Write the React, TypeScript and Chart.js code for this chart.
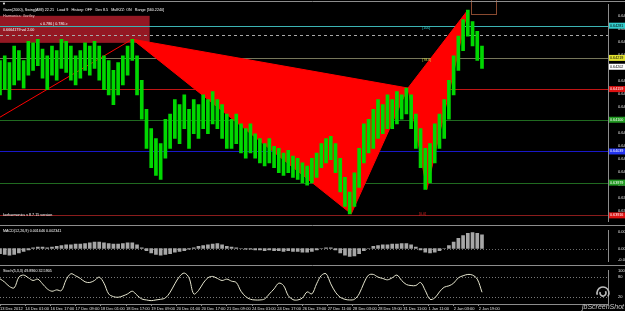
import React, { useEffect, useRef } from 'react';
import { Chart, registerables } from 'chart.js';
Chart.register(...registerables);

const FONT = '"Liberation Sans", Arial, sans-serif';
const X_MAX = 386; // hourly bars across the plot
const STEP = 3; // hours per drawn sample

const barHigh = [
  0.64214, 0.64223, 0.64210, 0.64242, 0.64233, 0.64214, 0.64251, 0.64248, 0.64255, 0.64236,
  0.64223, 0.64242, 0.64233, 0.64255, 0.64251, 0.64242, 0.64223, 0.64233, 0.64248, 0.64242,
  0.64251, 0.64242, 0.64223, 0.64214, 0.64195, 0.64210, 0.64223, 0.64242, 0.64255, 0.64223,
  0.64176, 0.64120, 0.64083, 0.64064, 0.64054, 0.64101, 0.64111, 0.64139, 0.64129, 0.64148,
  0.64120, 0.64139, 0.64129, 0.64148, 0.64139, 0.64154, 0.64139, 0.64129, 0.64111, 0.64101,
  0.64111, 0.64092, 0.64083, 0.64092, 0.64073, 0.64064, 0.64054, 0.64064, 0.64049, 0.64045,
  0.64036, 0.64041, 0.64030, 0.64026, 0.64017, 0.64011, 0.64026, 0.64036, 0.64054, 0.64064,
  0.64068, 0.64054, 0.64026, 0.63989, 0.63961, 0.63998, 0.64045, 0.64092, 0.64101, 0.64120,
  0.64139, 0.64129, 0.64148, 0.64139, 0.64154, 0.64148, 0.64161, 0.64148, 0.64111, 0.64083,
  0.64045, 0.64054, 0.64092, 0.64111, 0.64139, 0.64176, 0.64223, 0.64261, 0.64293, 0.64311,
  0.64289, 0.64270, 0.64242,
];
const barLow = [
  0.64148, 0.64158, 0.64139, 0.64167, 0.64176, 0.64161, 0.64186, 0.64195, 0.64204, 0.64180,
  0.64158, 0.64186, 0.64176, 0.64199, 0.64191, 0.64176, 0.64167, 0.64180, 0.64195, 0.64186,
  0.64199, 0.64176, 0.64158, 0.64148, 0.64129, 0.64148, 0.64167, 0.64186, 0.64214, 0.64148,
  0.64101, 0.64045, 0.64008, 0.63993, 0.63985, 0.64026, 0.64045, 0.64064, 0.64054, 0.64083,
  0.64045, 0.64073, 0.64064, 0.64083, 0.64073, 0.64092, 0.64083, 0.64064, 0.64045, 0.64045,
  0.64054, 0.64036, 0.64026, 0.64036, 0.64026, 0.64017, 0.64011, 0.64017, 0.64008, 0.63998,
  0.63993, 0.63998, 0.63989, 0.63985, 0.63979, 0.63974, 0.63979, 0.63989, 0.64008, 0.64017,
  0.64023, 0.63998, 0.63961, 0.63933, 0.63919, 0.63933, 0.63970, 0.64017, 0.64036, 0.64045,
  0.64064, 0.64073, 0.64083, 0.64083, 0.64092, 0.64101, 0.64111, 0.64083, 0.64045, 0.64008,
  0.63966, 0.63979, 0.64017, 0.64045, 0.64064, 0.64101, 0.64148, 0.64195, 0.64233, 0.64261,
  0.64242, 0.64214, 0.64199,
];
const macdHist = [
  -0.0007, -0.0008, -0.0009, -0.0008, -0.0006, -0.0004, -0.0002, 0.0001, 0.0002, 0.0002,
  0.0001, 0.0002, 0.0003, 0.0004, 0.0005, 0.0005, 0.0006, 0.0006, 0.0007, 0.0008,
  0.0009, 0.0009, 0.0008, 0.0007, 0.0006, 0.0006, 0.0007, 0.0008, 0.0008, 0.0005,
  0.0001, -0.0003, -0.0006, -0.0008, -0.0009, -0.0008, -0.0007, -0.0005, -0.0004, -0.0003,
  -0.0001, 0.0001, 0.0003, 0.0004, 0.0005, 0.0006, 0.0007, 0.0005, 0.0003, 0.0002,
  0.0001, 0.0, -0.0001, -0.0001, -0.0002, -0.0002, -0.0003, -0.0002, -0.0003, -0.0003,
  -0.0004, -0.0003, -0.0004, -0.0004, -0.0005, -0.0005, -0.0004, -0.0002, 0.0, 0.0001,
  0.0001, -0.0002, -0.0006, -0.0009, -0.0011, -0.001, -0.0007, -0.0003, 0.0, 0.0003,
  0.0004, 0.0005, 0.0005, 0.0006, 0.0006, 0.0007, 0.0007, 0.0005, 0.0002, -0.0002,
  -0.0005, -0.0006, -0.0005, -0.0003, 0.0, 0.0004, 0.0009, 0.0014, 0.0018, 0.0021,
  0.0022, 0.0021, 0.0019,
];
const stochMain = [
  75, 65, 52, 48, 80, 86, 78, 70, 74, 60,
  45, 38, 42, 40, 72, 90, 84, 76, 66, 64,
  70, 80, 62, 30, 22, 20, 24, 30, 38, 26,
  15, 12, 10, 12, 14, 18, 35, 60, 82, 92,
  78, 30, 40, 62, 78, 82, 76, 70, 74, 68,
  64, 38, 22, 14, 12, 12, 15, 30, 45, 62,
  55, 25, 13, 12, 18, 36, 30, 60, 85, 90,
  60, 35, 20, 14, 12, 14, 30, 62, 86, 88,
  80, 76, 72, 78, 86, 70, 58, 55, 55, 64,
  40, 14, 18, 36, 50, 54, 62, 78, 84, 88,
  86, 74, 35,
];
const timeLabels = [
  '13 Dec 2012', '14 Dec 01:00', '16 Dec 17:00', '17 Dec 09:00', '18 Dec 01:00',
  '18 Dec 17:00', '19 Dec 09:00', '20 Dec 01:00', '20 Dec 17:00', '21 Dec 09:00',
  '24 Dec 01:00', '24 Dec 17:00', '26 Dec 19:00', '27 Dec 11:00', '28 Dec 03:00',
  '28 Dec 19:00', '31 Dec 11:00', '1 Jan 11:00', '2 Jan 03:00', '2 Jan 19:00',
];
const priceTicks = [
  0.643, 0.64275, 0.6425, 0.64225, 0.642, 0.64175, 0.6415, 0.64125,
  0.641, 0.64075, 0.6405, 0.64025, 0.64, 0.63975, 0.6395, 0.63925,
];
const macdTickValues = [0.00236, 0, -0.00156];
const macdTickLabels = ['0.002366', '0.00', '-0.001564'];
const stochTicks = [100, 80, 20];
const stochLevels = [80, 20];

// horizontal price levels
const levelPrices = [0.64281, 0.64264, 0.64219, 0.64202, 0.64159, 0.641, 0.64039, 0.63979, 0.63916];
const levelLine = ['#3cb4b4', '#a8a8a8', '#76765a', '', '#c01414', '#206a20', '#1818c8', '#206a20', '#8a1c1c'];
const levelDash = [false, true, false, false, false, false, false, false, false];
const levelTag = ['#33cccc', '', '#e0e030', '#ffffff', '#dd1111', '#229922', '#2233ee', '#229922', '#dd1111'];
const levelTagText = ['#000', '', '#000', '#000', '#fff', '#fff', '#fff', '#fff', '#fff'];

// harmonic pattern points X, A, B, C, D (bar index, price)
const patternX = [84, 223, 259, 271, 297];
const patternP = [0.64255, 0.63919, 0.64161, 0.63966, 0.64311];
const legX = [0, 84];
const legP = [0.64105, 0.64255];
const boxX = [0, 95];
const boxP = [0.643, 0.64248];
const brownX = [299, 315];
const brownP = [0.64335, 0.64304];

const txt = (ctx: CanvasRenderingContext2D, s: string, x: number, y: number, color: string, size = 4, align: CanvasTextAlign = 'left', style = '') => {
  ctx.font = `${style}${size}px ${FONT}`;
  ctx.fillStyle = color;
  ctx.textAlign = align;
  ctx.textBaseline = 'middle';
  ctx.fillText(s, x, y);
};

const mainDecor = {
  id: 'mainDecor',
  beforeDatasetsDraw(chart: any) {
    const { ctx, chartArea: ca, scales } = chart;
    const x = scales.x, y = scales.y;
    ctx.save();
    ctx.beginPath();
    ctx.rect(ca.left, 0, ca.right - ca.left, ca.bottom);
    ctx.clip();
    const bx0 = x.getPixelForValue(boxX[0]), bx1 = x.getPixelForValue(boxX[1]);
    const by0 = y.getPixelForValue(boxP[0]), by1 = y.getPixelForValue(boxP[1]);
    ctx.fillStyle = '#941823';
    ctx.fillRect(bx0, by0, bx1 - bx0, by1 - by0);
    levelPrices.forEach((p, i) => {
      if (!levelLine[i]) return;
      const py = Math.round(y.getPixelForValue(p)) + 0.5;
      ctx.strokeStyle = levelLine[i];
      ctx.lineWidth = 1;
      ctx.setLineDash(levelDash[i] ? [3, 3] : []);
      ctx.beginPath();
      ctx.moveTo(ca.left, py);
      ctx.lineTo(ca.right, py);
      ctx.stroke();
    });
    ctx.setLineDash([]);
    const pts = patternX.map((v, i) => [x.getPixelForValue(v), y.getPixelForValue(patternP[i])]);
    ctx.fillStyle = '#ff0000';
    ctx.strokeStyle = '#ff0000';
    [[0, 1, 2], [2, 3, 4]].forEach((tri) => {
      ctx.beginPath();
      ctx.moveTo(pts[tri[0]][0], pts[tri[0]][1]);
      ctx.lineTo(pts[tri[1]][0], pts[tri[1]][1]);
      ctx.lineTo(pts[tri[2]][0], pts[tri[2]][1]);
      ctx.closePath();
      ctx.fill();
      ctx.stroke();
    });
    ctx.beginPath();
    ctx.lineWidth = 1;
    ctx.moveTo(x.getPixelForValue(legX[0]), y.getPixelForValue(legP[0]));
    ctx.lineTo(x.getPixelForValue(legX[1]), y.getPixelForValue(legP[1]));
    ctx.stroke();
    const rx0 = Math.round(x.getPixelForValue(brownX[0])) + 0.5;
    const rx1 = Math.round(x.getPixelForValue(brownX[1])) + 0.5;
    const ry0 = y.getPixelForValue(brownP[0]);
    const ry1 = Math.round(y.getPixelForValue(brownP[1])) + 0.5;
    ctx.strokeStyle = '#8a4a30';
    ctx.strokeRect(rx0, ry0, rx1 - rx0, ry1 - ry0);
    ctx.restore();
  },
  afterDatasetsDraw(chart: any) {
    const { ctx, chartArea: ca, scales } = chart;
    const x = scales.x, y = scales.y;
    ctx.save();
    ctx.strokeStyle = '#8c8c8c';
    ctx.lineWidth = 1;
    ctx.beginPath();
    ctx.moveTo(0, 1.5); ctx.lineTo(625, 1.5);
    ctx.moveTo(0, 225.5); ctx.lineTo(625, 225.5);
    ctx.stroke();
    txt(ctx, '\u25BC', 2, 4, '#ffffff', 4);
    txt(ctx, 'Gann(2000), Swing(AMI) 22.21   Load 9   History: OFF   Dev 8.5   MulKZZ: ON   Range [560.2240]', 3, 10, '#ffffff', 3.7);
    txt(ctx, 'Harmonics: Gartley', 3, 16, '#f0c0c0', 3.7);
    txt(ctx, '\u2264 0.786 | 0.786 \u2265', 40, 24, '#ffffff', 3.7);
    txt(ctx, '0.6664179 val 2.00', 3, 30, '#ffffff', 3.7);
    txt(ctx, 'korharmonics v 8.7.15 version', 3, 215, '#ffffff', 3.7);
    txt(ctx, '[100]', x.getPixelForValue(268), y.getPixelForValue(0.64276), '#33cccc', 3.7);
    txt(ctx, '[78.6]', x.getPixelForValue(268), y.getPixelForValue(0.64215), '#d0d040', 3.7);
    txt(ctx, '[0.0]', x.getPixelForValue(266), y.getPixelForValue(0.63918), '#dd2222', 3.7);
    levelPrices.forEach((p, i) => {
      if (!levelTag[i]) return;
      const py = y.getPixelForValue(p);
      ctx.fillStyle = levelTag[i];
      ctx.fillRect(ca.right + 1, py - 3, 625 - ca.right - 1, 6);
      txt(ctx, p.toFixed(5), ca.right + 2, py, levelTagText[i], 3.7);
    });
    ctx.restore();
  },
};

const macdDecor = {
  id: 'macdDecor',
  beforeDatasetsDraw(chart: any) {
    const { ctx, chartArea: ca, scales } = chart;
    const py = Math.round(scales.y.getPixelForValue(0)) + 0.5;
    ctx.save();
    ctx.strokeStyle = '#6a6a6a';
    ctx.setLineDash([1, 2]);
    ctx.beginPath();
    ctx.moveTo(ca.left, py); ctx.lineTo(ca.right, py);
    ctx.stroke();
    ctx.restore();
  },
  afterDatasetsDraw(chart: any) {
    const { ctx } = chart;
    ctx.save();
    ctx.strokeStyle = '#8c8c8c';
    ctx.lineWidth = 1;
    ctx.beginPath();
    ctx.moveTo(0, 39.5); ctx.lineTo(625, 39.5);
    ctx.stroke();
    txt(ctx, 'MACD(12,26,9) 0.001646 0.002341', 3, 5, '#ffffff', 3.7);
    ctx.restore();
  },
};

const stochDecor = {
  id: 'stochDecor',
  beforeDatasetsDraw(chart: any) {
    const { ctx, chartArea: ca, scales } = chart;
    ctx.save();
    ctx.strokeStyle = '#7a7a7a';
    ctx.setLineDash([1, 2]);
    stochLevels.forEach((l) => {
      const py = Math.round(scales.y.getPixelForValue(l)) + 0.5;
      ctx.beginPath();
      ctx.moveTo(ca.left, py); ctx.lineTo(ca.right, py);
      ctx.stroke();
    });
    ctx.restore();
  },
  afterDatasetsDraw(chart: any) {
    const { ctx } = chart;
    ctx.save();
    txt(ctx, 'Stoch(5,3,3) 49.8960 32.5905', 3, 5, '#ffffff', 3.7);
    ctx.strokeStyle = '#bdbdbd';
    ctx.lineWidth = 1.6;
    ctx.beginPath(); ctx.arc(603, 27, 6, Math.PI * 0.9, Math.PI * 2.2); ctx.stroke();
    ctx.beginPath(); ctx.arc(603, 27, 3, Math.PI * 1.8, Math.PI * 3.1); ctx.stroke();
    txt(ctx, 'jbScreenShot', 624, 41, '#c8c8c8', 7, 'right', 'italic ');
    ctx.restore();
  },
};

const xScale = { type: 'linear', min: 0, max: X_MAX, display: false, offset: false };
const tickFont = { family: FONT, size: 4 };

export default function App() {
  const r1 = useRef<HTMLCanvasElement>(null);
  const r2 = useRef<HTMLCanvasElement>(null);
  const r3 = useRef<HTMLCanvasElement>(null);

  useEffect(() => {
    const common = {
      animation: false,
      responsive: false,
      maintainAspectRatio: false,
      devicePixelRatio: 1,
      events: [],
      plugins: { legend: { display: false }, tooltip: { enabled: false } },
    };
    const c1 = new Chart(r1.current as HTMLCanvasElement, {
      type: 'bar',
      data: {
        datasets: [{
          data: barHigh.map((h, i) => ({ x: i * STEP, y: [barLow[i], h] })),
          backgroundColor: '#00d800',
          borderWidth: 0,
          barThickness: 3,
        }],
      },
      options: {
        ...common,
        layout: { padding: { top: 2, bottom: 1, left: 0, right: 0 } },
        scales: {
          x: xScale,
          y: {
            type: 'linear', position: 'right', min: 0.63904, max: 0.64322,
            grid: { display: false },
            border: { display: true, color: '#8c8c8c' },
            ticks: { color: '#e0e0e0', font: tickFont, padding: 2, callback: (v: any) => Number(v).toFixed(5) },
            afterFit: (s: any) => { s.width = 17; },
            afterBuildTicks: (s: any) => { s.ticks = priceTicks.map((v) => ({ value: v })); },
          },
        },
      } as any,
      plugins: [mainDecor],
    } as any);

    const c2 = new Chart(r2.current as HTMLCanvasElement, {
      type: 'bar',
      data: {
        datasets: [{
          data: macdHist.map((v, i) => ({ x: i * STEP, y: v })),
          backgroundColor: '#a6a6a6',
          borderWidth: 0,
          barThickness: 3,
        }],
      },
      options: {
        ...common,
        layout: { padding: { top: 1, bottom: 1, left: 0, right: 0 } },
        scales: {
          x: xScale,
          y: {
            type: 'linear', position: 'right', min: -0.0018, max: 0.0025,
            grid: { display: false },
            border: { display: true, color: '#8c8c8c' },
            ticks: { color: '#e0e0e0', font: tickFont, padding: 2, callback: (_v: any, i: number) => macdTickLabels[i] },
            afterFit: (s: any) => { s.width = 17; },
            afterBuildTicks: (s: any) => { s.ticks = macdTickValues.map((v) => ({ value: v })); },
          },
        },
      } as any,
      plugins: [macdDecor],
    } as any);

    const c3 = new Chart(r3.current as HTMLCanvasElement, {
      type: 'line',
      data: {
        datasets: [{
          data: stochMain.map((v, i) => ({ x: i * STEP, y: v })),
          borderColor: '#e6e6cf',
          borderWidth: 1,
          pointRadius: 0,
          tension: 0.35,
          fill: false,
        }],
      },
      options: {
        ...common,
        layout: { padding: { top: 2, bottom: 0, left: 0, right: 0 } },
        scales: {
          x: {
            type: 'linear', min: 0, max: X_MAX, offset: false,
            grid: { display: true, drawOnChartArea: false, drawTicks: true, tickLength: 2, color: '#8c8c8c' },
            border: { display: true, color: '#8c8c8c' },
            ticks: {
              color: '#e0e0e0', font: tickFont, padding: 0, maxRotation: 0, autoSkip: false, align: 'start',
              callback: (_v: any, i: number) => timeLabels[i],
            },
            afterFit: (s: any) => { s.height = 7; },
            afterBuildTicks: (s: any) => { s.ticks = timeLabels.map((_l, i) => ({ value: i * 16 })); },
          },
          y: {
            type: 'linear', position: 'right', min: 0, max: 100,
            grid: { display: false },
            border: { display: true, color: '#8c8c8c' },
            ticks: { color: '#e0e0e0', font: tickFont, padding: 2 },
            afterFit: (s: any) => { s.width = 17; },
            afterBuildTicks: (s: any) => { s.ticks = stochTicks.map((v) => ({ value: v })); },
          },
        },
      } as any,
      plugins: [stochDecor],
    } as any);

    return () => { c1.destroy(); c2.destroy(); c3.destroy(); };
  }, []);

  return (
    <div style={{ position: 'fixed', left: 0, top: 0, width: 625, height: 311, background: '#000', overflow: 'hidden' }}>
      <canvas ref={r1} width={625} height={226} style={{ position: 'absolute', left: 0, top: 0 }} />
      <canvas ref={r2} width={625} height={40} style={{ position: 'absolute', left: 0, top: 226 }} />
      <canvas ref={r3} width={625} height={45} style={{ position: 'absolute', left: 0, top: 266 }} />
    </div>
  );
}
